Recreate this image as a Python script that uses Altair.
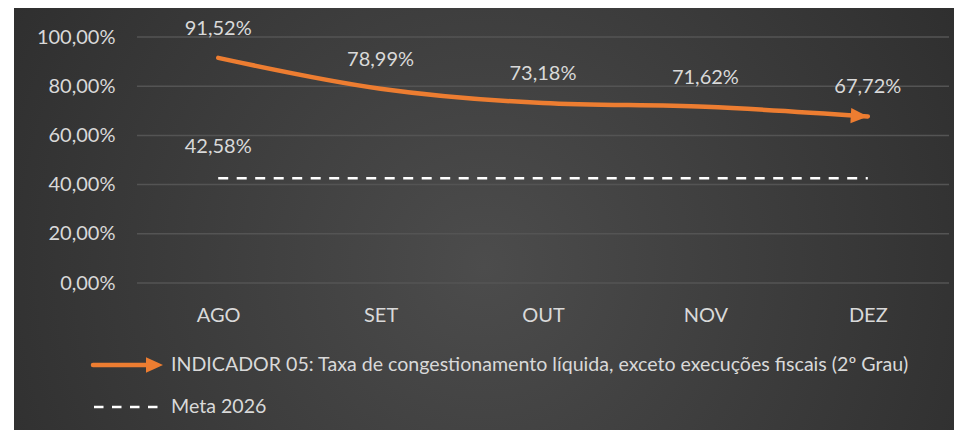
import altair as alt
import pandas as pd

# ---- data ----
months = ["AGO", "SET", "OUT", "NOV", "DEZ"]
indicador = [0.9152, 0.7899, 0.7318, 0.7162, 0.6772]
meta = [0.4258, 0.4258, 0.4258, 0.4258, 0.4258]
y_ticks = [0.0, 0.2, 0.4, 0.6, 0.8, 1.0]
legend_labels = [
    "INDICADOR 05: Taxa de congestionamento líquida, exceto execuções fiscais (2º Grau)",
    "Meta 2026",
]

df = pd.DataFrame({"mes": months, "indicador": indicador, "meta": meta})
df_first = df.iloc[[0]]
df_last = df.iloc[[-1]]

FONT = "Lato"
TXT = "#d9d9d9"
ORANGE = "#ED7D31"
GRID = "#545454"
ARROW = "M0,0 L-1,-0.45 L-1,0.45 Z"
PCT = "replace(format(datum.{f}, '.2%'), '.', ',')"

W, H = 812, 246

xscale = alt.Scale(type="point", padding=0.5)
yscale = alt.Scale(domain=[0, 1], nice=False, zero=True)
xaxis = alt.Axis(title=None, labelFont=FONT, labelFontSize=20, labelColor=TXT,
                 labelPadding=22, domain=False, ticks=False, grid=False,
                 labelAngle=0, zindex=1)
yaxis = alt.Axis(title=None, values=y_ticks, labelFont=FONT, labelFontSize=20,
                 labelColor=TXT, labelPadding=22, domain=False, ticks=False,
                 grid=False, zindex=1, labelExpr=PCT.format(f="value"))

X = alt.X("mes:N", sort=months, scale=xscale, axis=xaxis)

bg = alt.Chart(pd.DataFrame({"k": [0]})).mark_rect(
    fill=alt.RadialGradient(
        gradient="radial",
        stops=[alt.GradientStop(color="#4c4c4c", offset=0),
               alt.GradientStop(color="#262626", offset=1)],
        x1=0.5, y1=0.55, r1=0, x2=0.5, y2=0.55, r2=0.75,
    )
).encode(x=alt.value(-123), x2=alt.value(817), y=alt.value(-29), y2=alt.value(393))

grid = alt.Chart(pd.DataFrame({"t": y_ticks})).mark_rule(
    color=GRID, strokeWidth=1.5
).encode(y=alt.Y("t:Q", scale=yscale, axis=yaxis), x=alt.value(0), x2=alt.value(W))

meta_line = alt.Chart(df).mark_line(
    color="white", strokeDash=[10, 8.5], strokeWidth=2.5
).encode(x=X, y=alt.Y("meta:Q", scale=yscale, axis=yaxis))

ind_line = alt.Chart(df).mark_line(
    color=ORANGE, strokeWidth=4.5, interpolate="monotone", strokeCap="round"
).encode(x=X, y=alt.Y("indicador:Q", scale=yscale, axis=yaxis))

arrow = alt.Chart(df_last).mark_point(
    shape=ARROW, size=1156, filled=True, color=ORANGE, opacity=1, angle=3, strokeWidth=0
).encode(x=X, y=alt.Y("indicador:Q", scale=yscale, axis=yaxis))

ind_labels = alt.Chart(df).transform_calculate(
    lbl=PCT.format(f="indicador")
).mark_text(font=FONT, fontSize=20, color=TXT, dy=-29, baseline="middle").encode(
    x=X, y=alt.Y("indicador:Q", scale=yscale, axis=yaxis), text="lbl:N")

meta_label = alt.Chart(df_first).transform_calculate(
    lbl=PCT.format(f="meta")
).mark_text(font=FONT, fontSize=20, color=TXT, dy=-31, baseline="middle").encode(
    x=X, y=alt.Y("meta:Q", scale=yscale, axis=yaxis), text="lbl:N")

# ---- legend (manual) ----
leg_df1 = pd.DataFrame({"t": [legend_labels[0]]})
leg_df2 = pd.DataFrame({"t": [legend_labels[1]]})

leg_line = alt.Chart(leg_df1).mark_rule(
    color=ORANGE, strokeWidth=4.5, strokeCap="round"
).encode(x=alt.value(-44), x2=alt.value(12), y=alt.value(328))
leg_arrow = alt.Chart(leg_df1).mark_point(
    shape=ARROW, size=1156, filled=True, color=ORANGE, opacity=1, strokeWidth=0
).encode(x=alt.value(26), y=alt.value(328))
leg_text1 = alt.Chart(leg_df1).mark_text(
    font=FONT, fontSize=19.6, color=TXT, align="left", baseline="middle"
).encode(x=alt.value(34), y=alt.value(328), text="t:N")

leg_dash = alt.Chart(leg_df2).mark_rule(
    color="white", strokeWidth=2.5, strokeDash=[9.5, 8.5]
).encode(x=alt.value(-43), x2=alt.value(22), y=alt.value(370))
leg_text2 = alt.Chart(leg_df2).mark_text(
    font=FONT, fontSize=19.6, color=TXT, align="left", baseline="middle"
).encode(x=alt.value(34), y=alt.value(370), text="t:N")

chart = alt.layer(
    bg, grid, meta_line, ind_line, arrow, ind_labels, meta_label,
    leg_line, leg_arrow, leg_text1, leg_dash, leg_text2,
).properties(
    width=W, height=H,
    padding={"left": 129, "top": 29, "right": 5, "bottom": 147},
    autosize=alt.AutoSizeParams(type="none"),
    background="white",
).configure_view(stroke=None)

chart.save("out.html", embed_options={"renderer": "svg", "actions": False})
